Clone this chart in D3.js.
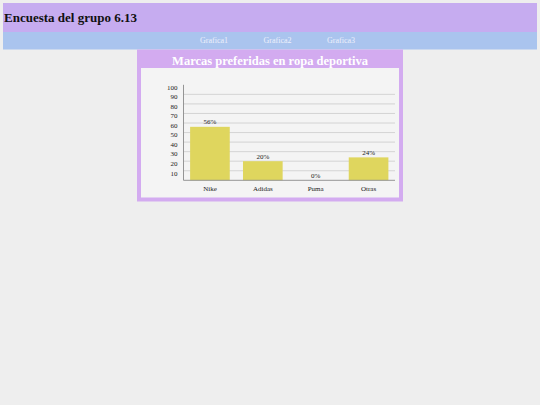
<!DOCTYPE html>
<html>
<head>
<meta charset="utf-8">
<script src="https://cdn.jsdelivr.net/npm/d3@7"></script>
<style>
  html, body { margin: 0; padding: 0; background: #eeeeee; }
  svg { display: block; }
</style>
</head>
<body>
<svg id="page"></svg>
<script>
// datos de la encuesta
var marcas = ["Nike", "Adidas", "Puma", "Otras"];
var porcentajes = [56, 20, 0, 24];
var ticksY = [10, 20, 30, 40, 50, 60, 70, 80, 90, 100];
var menu = ["Grafica1", "Grafica2", "Grafica3"];

var width = 540, height = 405;
var serif = "'Liberation Serif', 'DejaVu Serif', serif";

var svg = d3.select("#page")
    .attr("width", width)
    .attr("height", height);

svg.append("rect")
    .attr("width", width).attr("height", height)
    .attr("fill", "#eeeeee");

// cabecera
svg.append("rect")
    .attr("x", 3).attr("y", 3)
    .attr("width", 534).attr("height", 29)
    .attr("fill", "#c6acf0");

svg.append("text")
    .attr("x", 4).attr("y", 21.5)
    .attr("font-family", serif)
    .attr("font-weight", "bold")
    .attr("font-size", 13)
    .attr("fill", "#111")
    .text("Encuesta del grupo 6.13");

// menu
svg.append("rect")
    .attr("x", 3).attr("y", 32)
    .attr("width", 534).attr("height", 17.5)
    .attr("fill", "#aac4ee");

var xMenu = d3.scalePoint().domain(menu).range([214, 341]);

svg.selectAll(".menu")
    .data(menu)
    .enter().append("text")
    .attr("class", "menu")
    .attr("x", function (d) { return xMenu(d); })
    .attr("y", 43)
    .attr("text-anchor", "middle")
    .attr("font-family", serif)
    .attr("font-size", 8)
    .attr("fill", "#eef0fb")
    .text(function (d) { return d; });

// panel de la grafica
svg.append("rect")
    .attr("x", 137).attr("y", 49.5)
    .attr("width", 266).attr("height", 152)
    .attr("fill", "#d3abf0");

svg.append("rect")
    .attr("x", 141).attr("y", 68)
    .attr("width", 258).attr("height", 129.5)
    .attr("fill", "#f4f4f4");

svg.append("text")
    .attr("x", 270).attr("y", 65)
    .attr("text-anchor", "middle")
    .attr("font-family", serif)
    .attr("font-weight", "bold")
    .attr("font-size", 12.5)
    .attr("fill", "#ffffff")
    .text("Marcas preferidas en ropa deportiva");

var x = d3.scaleBand()
    .domain(marcas)
    .range([183.5, 395])
    .paddingInner(0.25)
    .paddingOuter(0.125);

var y = d3.scaleLinear()
    .domain([0, 100])
    .range([180.3, 84.8]);

var g = svg.append("g");

// lineas de la cuadricula
g.selectAll(".grid")
    .data(ticksY.filter(function (d) { return d < 100; }))
    .enter().append("line")
    .attr("class", "grid")
    .attr("x1", x.range()[0]).attr("x2", x.range()[1])
    .attr("y1", function (d) { return y(d); })
    .attr("y2", function (d) { return y(d); })
    .attr("stroke", "#cbcbcb")
    .attr("stroke-width", 0.8);

g.selectAll(".ytick")
    .data(ticksY)
    .enter().append("text")
    .attr("class", "ytick")
    .attr("x", 177.5)
    .attr("y", function (d) { return y(d) + 4.8; })
    .attr("text-anchor", "end")
    .attr("font-family", serif)
    .attr("font-size", 7)
    .attr("fill", "#222")
    .text(function (d) { return d; });

// barras
g.selectAll(".bar")
    .data(porcentajes)
    .enter().append("rect")
    .attr("class", "bar")
    .attr("x", function (d, i) { return x(marcas[i]); })
    .attr("y", function (d) { return y(d); })
    .attr("width", x.bandwidth())
    .attr("height", function (d) { return y(0) - y(d); })
    .attr("fill", "#dfd65e");

g.selectAll(".valor")
    .data(porcentajes)
    .enter().append("text")
    .attr("class", "valor")
    .attr("x", function (d, i) { return x(marcas[i]) + x.bandwidth() / 2; })
    .attr("y", function (d) { return y(d) - 2.5; })
    .attr("text-anchor", "middle")
    .attr("font-family", serif)
    .attr("font-size", 7)
    .attr("fill", "#222")
    .text(function (d) { return d + "%"; });

// ejes
g.append("line")
    .attr("x1", x.range()[0]).attr("x2", x.range()[0])
    .attr("y1", y(100)).attr("y2", y(0))
    .attr("stroke", "#8a8a8a")
    .attr("stroke-width", 0.9);

g.append("line")
    .attr("x1", x.range()[0]).attr("x2", x.range()[1])
    .attr("y1", y(0)).attr("y2", y(0))
    .attr("stroke", "#8a8a8a")
    .attr("stroke-width", 0.9);

g.selectAll(".xtick")
    .data(marcas)
    .enter().append("text")
    .attr("class", "xtick")
    .attr("x", function (d) { return x(d) + x.bandwidth() / 2; })
    .attr("y", 190.5)
    .attr("text-anchor", "middle")
    .attr("font-family", serif)
    .attr("font-size", 7)
    .attr("fill", "#222")
    .text(function (d) { return d; });
</script>
</body>
</html>
